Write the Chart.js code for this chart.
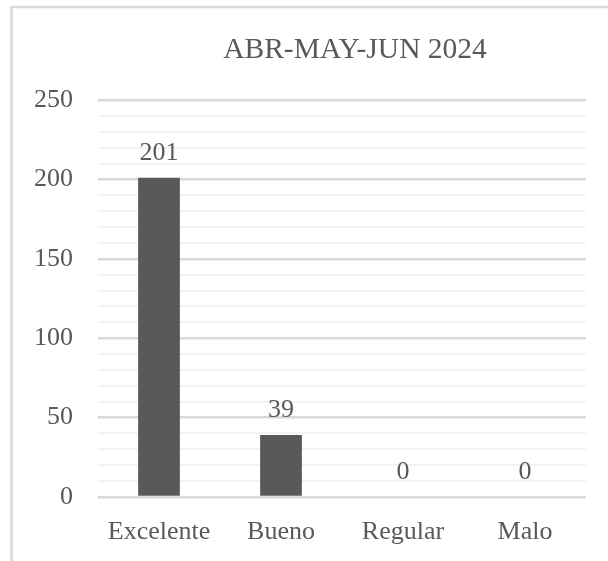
<!DOCTYPE html>
<html><head><meta charset="utf-8">
<script src="https://cdn.jsdelivr.net/npm/chart.js@4.4.1/dist/chart.umd.min.js"></script>
<style>html,body{margin:0;padding:0;background:#fff;overflow:hidden}#wrap{position:relative;width:608px;height:561px}canvas{display:block}</style>
</head><body><div id="wrap"><canvas id="c" width="608" height="561"></canvas></div>
<script>
const chartTitle = 'ABR-MAY-JUN 2024';
const categories = ['Excelente', 'Bueno', 'Regular', 'Malo'];
const values = [201, 39, 0, 0];
const yMin = 0;
const yMax = 250;
const yLabelStep = 50;
const yGridStep = 10;

const FONT = '"Liberation Serif", "DejaVu Serif", serif';
const TEXT = '#595959';

const framePlugin = {
  id: 'frameAndTitle',
  beforeDraw(chart) {
    const ctx = chart.ctx;
    ctx.save();
    ctx.strokeStyle = '#d9d9d9';
    ctx.lineWidth = 2.5;
    ctx.strokeRect(11.5, 7, 687, 700);
    ctx.restore();
  },
  afterDraw(chart) {
    const ctx = chart.ctx;
    ctx.save();
    ctx.fillStyle = TEXT;
    ctx.font = '29.5px ' + FONT;
    ctx.textAlign = 'center';
    ctx.textBaseline = 'alphabetic';
    ctx.fillText(chartTitle, 11.5 + 687 / 2, 58);
    ctx.restore();
  }
};

const valueLabels = {
  id: 'valueLabels',
  afterDatasetsDraw(chart) {
    const ctx = chart.ctx;
    const meta = chart.getDatasetMeta(0);
    ctx.save();
    ctx.fillStyle = TEXT;
    ctx.font = '26px ' + FONT;
    ctx.textAlign = 'center';
    ctx.textBaseline = 'alphabetic';
    meta.data.forEach((bar, i) => {
      ctx.fillText(String(chart.data.datasets[0].data[i]), bar.x, bar.y - 18);
    });
    ctx.restore();
  }
};

new Chart(document.getElementById('c'), {
  type: 'bar',
  data: {
    labels: categories,
    datasets: [{
      data: values,
      backgroundColor: '#595959',
      borderWidth: 0,
      barPercentage: 0.342,
      categoryPercentage: 1
    }]
  },
  options: {
    responsive: false,
    animation: false,
    layout: { padding: { top: 100, right: 22, bottom: 0, left: 10 } },
    plugins: { legend: { display: false }, title: { display: false }, tooltip: { enabled: false } },
    scales: {
      x: {
        grid: { display: false },
        border: { display: false },
        afterFit(scale) { scale.height = 64; },
        ticks: { color: TEXT, font: { family: FONT, size: 26 }, padding: 12, maxRotation: 0 }
      },
      y: {
        min: yMin,
        max: yMax,
        border: { display: false },
        afterFit(scale) { scale.width = 88; },
        grid: {
          drawTicks: false,
          color: c => (c.tick && c.tick.value % yLabelStep === 0) ? '#d9d9d9' : '#f2f2f2',
          lineWidth: c => (c.tick && c.tick.value % yLabelStep === 0) ? 2.5 : 2
        },
        ticks: {
          stepSize: yGridStep,
          autoSkip: false,
          padding: 25,
          color: TEXT,
          font: { family: FONT, size: 26 },
          callback: v => (v % yLabelStep === 0 ? v : '')
        }
      }
    }
  },
  plugins: [framePlugin, valueLabels]
});
</script></body></html>
